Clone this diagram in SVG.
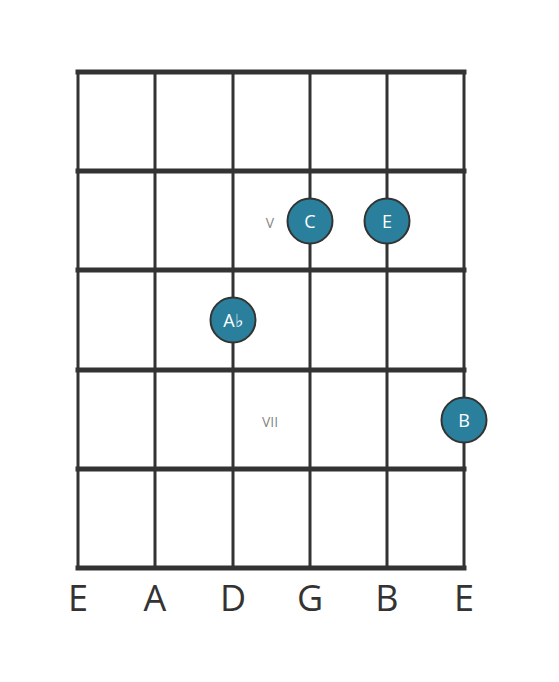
<svg xmlns="http://www.w3.org/2000/svg" width="559" height="682" viewBox="0 0 559 682">
<style>
.fret{stroke:#333;stroke-width:5;stroke-linecap:square}
.str{stroke:#333;stroke-width:3}
.note circle{fill:#2a809c;stroke:#333;stroke-width:2}
.note text{fill:#fff;font-family:"Open Sans",sans-serif;font-size:18px;text-anchor:middle;dominant-baseline:central}
.pos{fill:#888;font-family:"Open Sans",sans-serif;font-size:14px;text-anchor:middle;dominant-baseline:central}
.sname{fill:#333;font-family:"Open Sans",sans-serif;font-size:36px;text-anchor:middle}
</style>
<rect width="559" height="682" fill="#fff"/>
<g id="board">
<line class="str" x1="78" y1="72" x2="78" y2="568"/>
<line class="str" x1="155" y1="72" x2="155" y2="568"/>
<line class="str" x1="233" y1="72" x2="233" y2="568"/>
<line class="str" x1="310" y1="72" x2="310" y2="568"/>
<line class="str" x1="387" y1="72" x2="387" y2="568"/>
<line class="str" x1="464" y1="72" x2="464" y2="568"/>
<line class="fret" x1="78" y1="72" x2="464" y2="72"/>
<line class="fret" x1="78" y1="171" x2="464" y2="171"/>
<line class="fret" x1="78" y1="270" x2="464" y2="270"/>
<line class="fret" x1="78" y1="370" x2="464" y2="370"/>
<line class="fret" x1="78" y1="469" x2="464" y2="469"/>
<line class="fret" x1="78" y1="568" x2="464" y2="568"/>
</g>
<g id="markers">
<text class="pos" x="270" y="222">V</text>
<text class="pos" x="270" y="421">VII</text>
</g>
<g id="note-C" class="note"><circle cx="310" cy="221" r="22.5"/><text x="310" y="221">C</text></g>
<g id="note-E" class="note"><circle cx="387" cy="221" r="22.5"/><text x="387" y="221">E</text></g>
<g id="note-Ab" class="note"><circle cx="233" cy="320" r="22.5"/><text x="233" y="320">A♭</text></g>
<g id="note-B" class="note"><circle cx="464" cy="420" r="22.5"/><text x="464" y="420">B</text></g>
<g id="strings">
<text class="sname" x="78" y="611">E</text>
<text class="sname" x="155" y="611">A</text>
<text class="sname" x="233" y="611">D</text>
<text class="sname" x="310" y="611">G</text>
<text class="sname" x="387" y="611">B</text>
<text class="sname" x="464" y="611">E</text>
</g>
</svg>
